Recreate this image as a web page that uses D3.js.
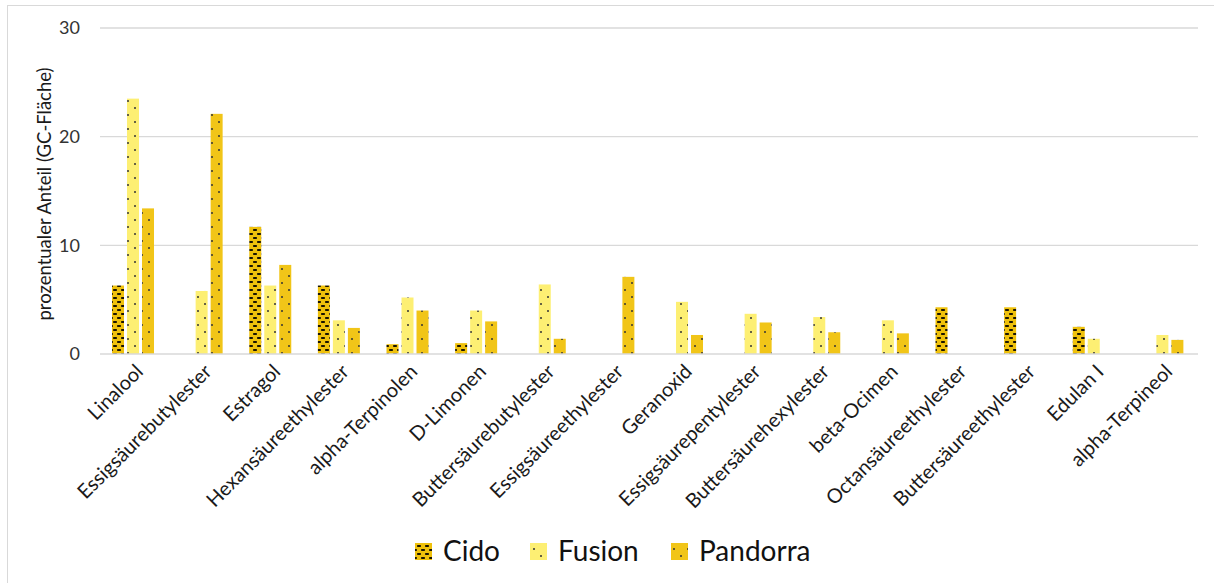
<!DOCTYPE html>
<html>
<head>
<meta charset="utf-8">
<script src="https://cdn.jsdelivr.net/npm/d3@7"></script>
<style>
  html, body { margin: 0; padding: 0; background: #fff; }
  svg { display: block; font-family: Lato, "Open Sans", sans-serif; }
</style>
</head>
<body>
<svg id="chart" width="1214" height="583"></svg>
<script>
// Aroma compounds, share of GC peak area (%) per variety
const categories = [
  "Linalool", "Essigsäurebutylester", "Estragol", "Hexansäureethylester",
  "alpha-Terpinolen", "D-Limonen", "Buttersäurebutylester", "Essigsäureethylester",
  "Geranoxid", "Essigsäurepentylester", "Buttersäurehexylester", "beta-Ocimen",
  "Octansäureethylester", "Buttersäureethylester", "Edulan I", "alpha-Terpineol"
];
const seriesNames = ["Cido", "Fusion", "Pandorra"];
const cido     = [6.3, 0,    11.7, 6.3, 0.9, 1.0, 0,   0,   0,    0,   0,   0,   4.3, 4.3, 2.5, 0];
const fusion   = [23.5, 5.8, 6.3,  3.1, 5.2, 4.0, 6.4, 0,   4.8,  3.7, 3.4, 3.1, 0,   0,   1.4, 1.75];
const pandorra = [13.4, 22.1, 8.2, 2.4, 4.0, 3.0, 1.4, 7.1, 1.75, 2.9, 2.0, 1.9, 0,   0,   0,   1.3];
const yTicks = [0, 10, 20, 30];

const seriesValues = [cido, fusion, pandorra];

const svg = d3.select("#chart");
const defs = svg.append("defs");

// Fill patterns: brick-like dashes for Cido, sparse dots for Fusion / Pandorra
const pCido = defs.append("pattern").attr("id", "pat-cido")
  .attr("patternUnits", "userSpaceOnUse").attr("width", 8).attr("height", 8);
pCido.append("rect").attr("width", 8).attr("height", 8).attr("fill", "#efc10c");
[[1, 1], [5, 5], [-3, 5]].forEach(([x, y]) =>
  pCido.append("rect").attr("x", x).attr("y", y).attr("width", 4).attr("height", 2)
    .attr("rx", 0.8).attr("fill", "#1a1400"));

function dotPattern(id, base) {
  const p = defs.append("pattern").attr("id", id)
    .attr("patternUnits", "userSpaceOnUse").attr("width", 14).attr("height", 14);
  p.append("rect").attr("width", 14).attr("height", 14).attr("fill", base);
  [[2, 3], [9, 10]].forEach(([x, y]) =>
    p.append("circle").attr("cx", x).attr("cy", y).attr("r", 1).attr("fill", "#333"));
}
dotPattern("pat-fusion", "#fdef73");
dotPattern("pat-pandorra", "#f1c518");
const fills = ["url(#pat-cido)", "url(#pat-fusion)", "url(#pat-pandorra)"];

// Outer chart frame
svg.append("rect").attr("x", 7.5).attr("y", 5.5).attr("width", 1220).attr("height", 600)
  .attr("fill", "none").attr("stroke", "#d9d9d9");

const plotLeft = 100, plotRight = 1198, plotTop = 28, plotBottom = 354;

const x = d3.scaleBand().domain(categories).range([plotLeft, plotRight]).padding(0);
const bw = x.bandwidth();
const xs = d3.scaleBand().domain(seriesNames)
  .range([bw * 0.175, bw * 0.787]).paddingInner(0.2).paddingOuter(0);
const y = d3.scaleLinear().domain([0, 30]).range([plotBottom, plotTop]);

// Horizontal gridlines
svg.append("g").selectAll("line").data(yTicks.filter(t => t > 0)).join("line")
  .attr("x1", plotLeft).attr("x2", plotRight)
  .attr("y1", d => y(d)).attr("y2", d => y(d))
  .attr("stroke", "#d9d9d9").attr("stroke-width", 1.3);

// Y axis tick labels
const yAxis = svg.append("g").attr("transform", `translate(${plotLeft - 20},0)`)
  .call(d3.axisLeft(y).tickValues(yTicks).tickSize(0).tickPadding(0));
yAxis.select(".domain").remove();
yAxis.selectAll("text").attr("font-size", 18).attr("fill", "#333")
  .attr("font-family", "Lato, sans-serif");

// Bars
seriesNames.forEach((name, si) => {
  svg.append("g").selectAll("rect")
    .data(categories.map((c, i) => ({ c, v: seriesValues[si][i] })).filter(d => d.v > 0))
    .join("rect")
    .attr("x", d => x(d.c) + xs(name))
    .attr("width", xs.bandwidth())
    .attr("y", d => y(d.v))
    .attr("height", d => y(0) - y(d.v))
    .attr("fill", fills[si]);
});

// Baseline
svg.append("line").attr("x1", plotLeft).attr("x2", plotRight)
  .attr("y1", y(0)).attr("y2", y(0))
  .attr("stroke", "#d9d9d9").attr("stroke-width", 1.3);

// Category labels, rotated
const xAxis = svg.append("g").attr("transform", `translate(0,${plotBottom})`)
  .call(d3.axisBottom(x).tickSize(0).tickPadding(0));
xAxis.select(".domain").remove();
xAxis.selectAll("text")
  .attr("font-size", 20).attr("fill", "#1a1a1a").attr("font-family", "Lato, sans-serif")
  .attr("text-anchor", "end").attr("dy", "0.35em")
  .attr("transform", "translate(5,14) rotate(-45)")
  .attr("y", 0).attr("x", 0);

// Y axis title
svg.append("text")
  .attr("transform", `translate(51,${(plotTop + plotBottom) / 2 + 3}) rotate(-90)`)
  .attr("text-anchor", "middle").attr("font-size", 18.5).attr("fill", "#1a1a1a")
  .text("prozentualer Anteil (GC-Fläche)");

// Legend
const legendX = [415, 530, 671];
const legend = svg.append("g");
seriesNames.forEach((name, i) => {
  legend.append("rect").attr("x", legendX[i]).attr("y", 543)
    .attr("width", 17).attr("height", 17).attr("fill", fills[i]);
  legend.append("text").attr("x", legendX[i] + 28).attr("y", 561)
    .attr("font-size", 28).attr("fill", "#111").text(name);
});
</script>
</body>
</html>
